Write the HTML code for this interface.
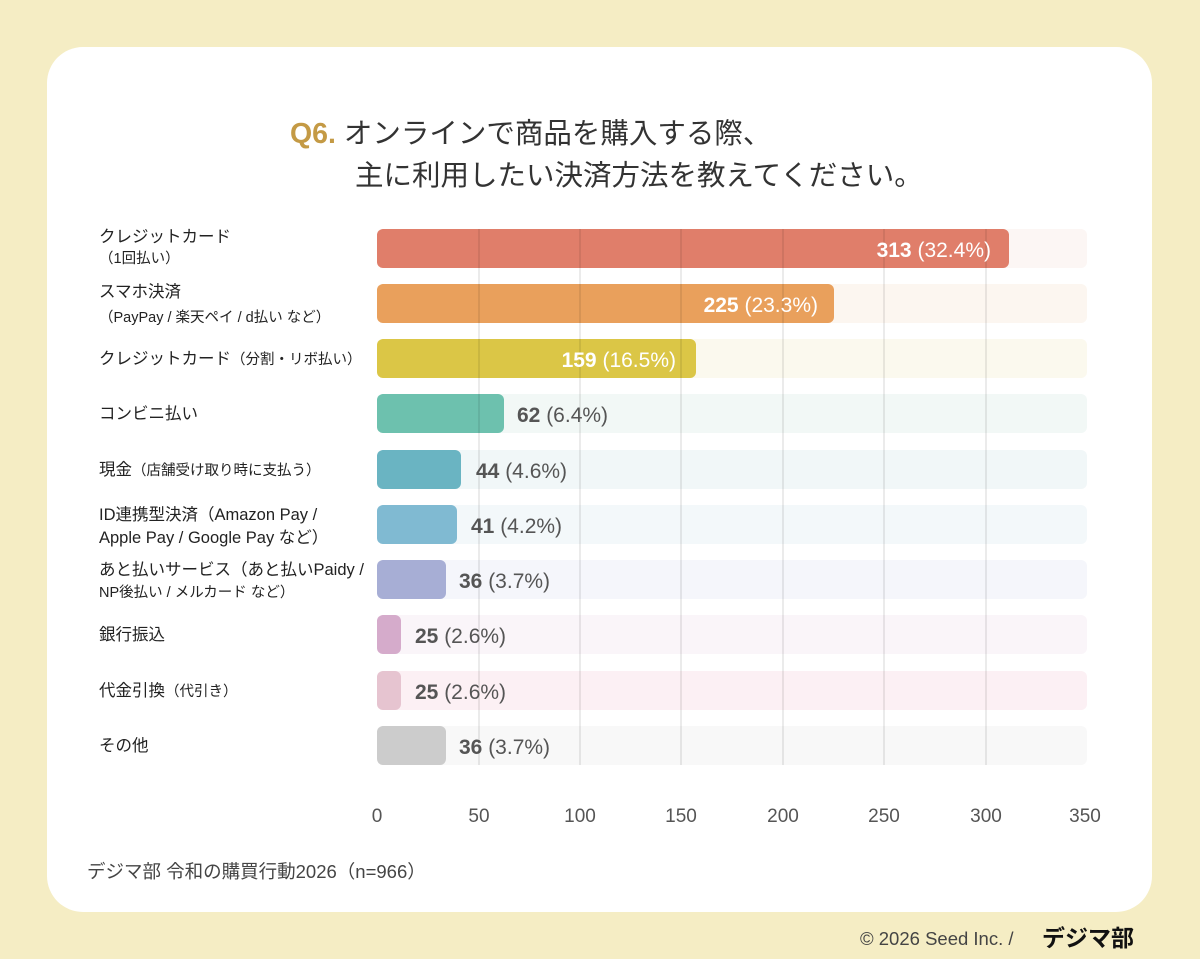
<!DOCTYPE html><html><head><meta charset="utf-8"><style>
body{margin:0;width:1200px;height:959px;background:#F5EDC4;font-family:"Liberation Sans","Noto Sans CJK JP",sans-serif;overflow:hidden}
</style></head><body>
<svg width="1200" height="959" xmlns="http://www.w3.org/2000/svg" style="position:absolute;left:0;top:0;font-family:'Liberation Sans','Noto Sans CJK JP',sans-serif">
<rect x="47" y="47" width="1105" height="865" rx="36" fill="#fff"/>
<text x="290" y="143" font-size="28.5" fill="#333"><tspan fill="#C49A45" font-weight="bold">Q6.</tspan> オンラインで商品を購入する際、</text>
<text x="355" y="185" font-size="28.5" fill="#333">主に利用したい決済方法を教えてください。</text>
<g id="bars">
<rect x="377" y="229" width="710" height="39" rx="6" fill="#FCF6F4"/>
<rect x="377" y="284" width="710" height="39" rx="6" fill="#FCF6F0"/>
<rect x="377" y="339" width="710" height="39" rx="6" fill="#FBF9EE"/>
<rect x="377" y="394" width="710" height="39" rx="6" fill="#F2F8F6"/>
<rect x="377" y="450" width="710" height="39" rx="6" fill="#F1F7F8"/>
<rect x="377" y="505" width="710" height="39" rx="6" fill="#F3F8FA"/>
<rect x="377" y="560" width="710" height="39" rx="6" fill="#F5F6FB"/>
<rect x="377" y="615" width="710" height="39" rx="6" fill="#FAF5F9"/>
<rect x="377" y="671" width="710" height="39" rx="6" fill="#FCF0F4"/>
<rect x="377" y="726" width="710" height="39" rx="6" fill="#F8F8F8"/>
<rect x="377" y="229" width="632" height="39" rx="6" fill="#E07E6A"/>
<rect x="377" y="284" width="457" height="39" rx="6" fill="#E9A05C"/>
<rect x="377" y="339" width="319" height="39" rx="6" fill="#DBC646"/>
<rect x="377" y="394" width="127" height="39" rx="6" fill="#6DC1AE"/>
<rect x="377" y="450" width="84" height="39" rx="6" fill="#6AB4C2"/>
<rect x="377" y="505" width="80" height="39" rx="6" fill="#80BAD2"/>
<rect x="377" y="560" width="69" height="39" rx="6" fill="#A7AED5"/>
<rect x="377" y="615" width="24" height="39" rx="6" fill="#D5ABCB"/>
<rect x="377" y="671" width="24" height="39" rx="6" fill="#E6C4D0"/>
<rect x="377" y="726" width="69" height="39" rx="6" fill="#CCCCCC"/>
</g>
<g stroke="#000" stroke-opacity="0.08" stroke-width="2">
<line x1="479" y1="229" x2="479" y2="765"/><line x1="580" y1="229" x2="580" y2="765"/><line x1="681" y1="229" x2="681" y2="765"/><line x1="783" y1="229" x2="783" y2="765"/><line x1="884" y1="229" x2="884" y2="765"/><line x1="986" y1="229" x2="986" y2="765"/>
</g>
<g font-size="21" fill="#fff" text-anchor="end">
<text x="991" y="257"><tspan font-weight="bold">313</tspan> (32.4%)</text>
<text x="818" y="312"><tspan font-weight="bold">225</tspan> (23.3%)</text>
<text x="676" y="367"><tspan font-weight="bold">159</tspan> (16.5%)</text>
</g>
<g font-size="21" fill="#555">
<text x="517" y="422"><tspan font-weight="bold">62</tspan> (6.4%)</text>
<text x="476" y="478"><tspan font-weight="bold">44</tspan> (4.6%)</text>
<text x="471" y="533"><tspan font-weight="bold">41</tspan> (4.2%)</text>
<text x="459" y="588"><tspan font-weight="bold">36</tspan> (3.7%)</text>
<text x="415" y="643"><tspan font-weight="bold">25</tspan> (2.6%)</text>
<text x="415" y="699"><tspan font-weight="bold">25</tspan> (2.6%)</text>
<text x="459" y="754"><tspan font-weight="bold">36</tspan> (3.7%)</text>
</g>
<g font-size="16.5" fill="#222">
<text x="99" y="242">クレジットカード</text>
<text x="99" y="263" font-size="14.5">（1回払い）</text>
<text x="99" y="297">スマホ決済</text>
<text x="99" y="322" font-size="14.5">（PayPay / 楽天ペイ / d払い など）</text>
<text x="99" y="364">クレジットカード<tspan font-size="14.5">（分割・リボ払い）</tspan></text>
<text x="99" y="419">コンビニ払い</text>
<text x="99" y="475">現金<tspan font-size="14.5">（店舗受け取り時に支払う）</tspan></text>
<text x="99" y="520">ID連携型決済（Amazon Pay /</text>
<text x="99" y="543">Apple Pay / Google Pay など）</text>
<text x="99" y="575">あと払いサービス（あと払いPaidy /</text>
<text x="99" y="597" font-size="14.5">NP後払い / メルカード など）</text>
<text x="99" y="640">銀行振込</text>
<text x="99" y="696">代金引換<tspan font-size="14.5">（代引き）</tspan></text>
<text x="99" y="751">その他</text>
</g>
<g font-size="19" fill="#555" text-anchor="middle">
<text x="377" y="822">0</text><text x="479" y="822">50</text><text x="580" y="822">100</text><text x="681" y="822">150</text><text x="783" y="822">200</text><text x="884" y="822">250</text><text x="986" y="822">300</text><text x="1085" y="822">350</text>
</g>
<text x="87" y="878" font-size="18.5" fill="#444">デジマ部 令和の購買行動2026（n=966）</text>
<text x="860" y="945" font-size="18.5" fill="#444">© 2026 Seed Inc. /</text>
<text x="1042" y="946" font-size="23" font-weight="bold" fill="#111">デジマ部</text>
</svg>
</body></html>
